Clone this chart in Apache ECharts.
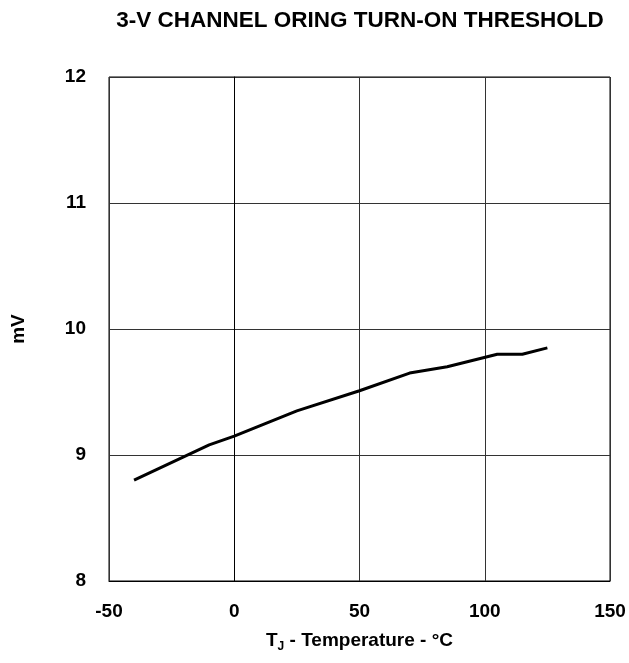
<!DOCTYPE html>
<html>
<head>
<meta charset="utf-8">
<script src="https://cdn.jsdelivr.net/npm/echarts@6/dist/echarts.min.js"></script>
<style>html,body{margin:0;padding:0;background:#fff}#c{width:629px;height:663px}</style>
</head>
<body>
<div id="c"></div>
<script>
const temperature = [-40, -10, 0, 25, 50, 70, 85, 105, 115, 125];
const threshold = [8.80, 9.08, 9.15, 9.35, 9.51, 9.65, 9.70, 9.80, 9.80, 9.85];
const xTicks = [-50, 0, 50, 100, 150];
const yTicks = [8, 9, 10, 11, 12];
const titleText = '3-V CHANNEL ORING TURN-ON THRESHOLD';

const font = '"Liberation Sans", Arial, sans-serif';
const chart = echarts.init(document.getElementById('c'), null, {renderer: 'canvas'});
chart.setOption({
  animation: false,
  backgroundColor: '#fff',
  title: {
    text: titleText,
    left: 355, top: 4, textAlign: 'center',
    textStyle: {fontFamily: font, fontWeight: 'bold', fontSize: 22.5, color: '#000'}
  },
  grid: {left: 109, right: 19, top: 77, bottom: 82, show: true, borderColor: '#000', borderWidth: 1,
         containLabel: false, outerBoundsMode: 'none'},
  xAxis: {
    type: 'value', min: xTicks[0], max: xTicks[xTicks.length - 1], interval: 50,
    axisLine: {show: true, lineStyle: {color: '#000', width: 1}},
    axisTick: {show: false},
    splitLine: {show: true, lineStyle: {color: '#333', width: 1}},
    axisLabel: {margin: 21, fontFamily: font, fontWeight: 'bold', fontSize: 19, color: '#000'},
    name: '{a|T}{s|J}{a| - Temperature - °C}',
    nameLocation: 'middle', nameGap: 49,
    nameTextStyle: {
      rich: {
        a: {fontFamily: font, fontWeight: 'bold', fontSize: 19, color: '#000', lineHeight: 22},
        s: {fontFamily: font, fontWeight: 'bold', fontSize: 12, color: '#000', lineHeight: 22, padding: [12, 0, 0, 0]}
      }
    }
  },
  yAxis: {
    type: 'value', min: yTicks[0], max: yTicks[yTicks.length - 1], interval: 1,
    axisLine: {show: true, lineStyle: {color: '#000', width: 1}},
    axisTick: {show: false},
    splitLine: {show: true, lineStyle: {color: '#333', width: 1}},
    axisLabel: {margin: 23, fontFamily: font, fontWeight: 'bold', fontSize: 19, color: '#000'},
    name: 'mV', nameLocation: 'middle', nameGap: 81, nameRotate: 90,
    nameTextStyle: {fontFamily: font, fontWeight: 'bold', fontSize: 19, color: '#000'}
  },
  series: [{
    type: 'line',
    data: temperature.map((t, i) => [t, threshold[i]]),
    showSymbol: false,
    lineStyle: {color: '#000', width: 3},
    itemStyle: {color: '#000'}
  }]
});
</script>
</body>
</html>
